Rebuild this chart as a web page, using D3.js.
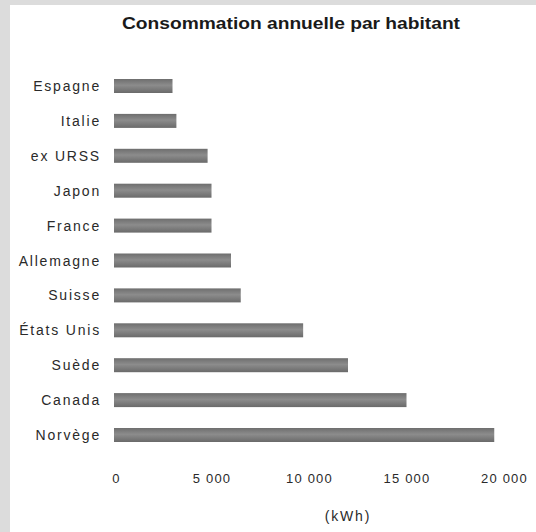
<!DOCTYPE html>
<html><head><meta charset="utf-8">
<script src="https://cdn.jsdelivr.net/npm/d3@7/dist/d3.min.js"></script>
<style>html,body{margin:0;padding:0;background:#dcdcdc;}svg{display:block;}</style>
</head><body><svg id="c" width="536" height="532"></svg>
<script>
const countries = ["Espagne","Italie","ex URSS","Japon","France","Allemagne","Suisse","États Unis","Suède","Canada","Norvège"];
const values = [3000,3200,4800,5000,5000,6000,6500,9700,12000,15000,19500];
const tickValues = [0,5000,10000,15000,20000];
const tickLabels = ["0","5 000","10 000","15 000","20 000"];
const title = "Consommation annuelle par habitant";
const unit = "(kWh)";

const svg = d3.select("#c");
svg.append("rect").attr("x",10).attr("y",5).attr("width",526).attr("height",527).attr("fill","#ffffff");

const defs = svg.append("defs");
const g = defs.append("linearGradient").attr("id","bg").attr("x1",0).attr("y1",0).attr("x2",0).attr("y2",1);
g.append("stop").attr("offset","0%").attr("stop-color","#6e6e6e");
g.append("stop").attr("offset","45%").attr("stop-color","#8c8c8c");
g.append("stop").attr("offset","100%").attr("stop-color","#6a6a6a");

const x = d3.scaleLinear().domain([0,20000]).range([114,504]);
const y = d3.scalePoint().domain(countries).range([86,435]);
const bh = 14;
const font = "Liberation Sans, Arial, sans-serif";

svg.append("text").attr("x",291).attr("y",29).attr("text-anchor","middle")
  .attr("font-family",font).attr("font-weight","bold")
  .attr("font-size",16).attr("fill","#1a1a1a")
  .attr("textLength",338).attr("lengthAdjust","spacingAndGlyphs").text(title);

svg.append("g").selectAll("rect").data(countries).join("rect")
  .attr("x",x(0)).attr("y",d=>y(d)-bh/2)
  .attr("width",(d,i)=>x(values[i])-x(0)).attr("height",bh)
  .attr("fill","url(#bg)");

svg.append("g").selectAll("text").data(countries).join("text")
  .attr("x",101).attr("y",d=>y(d)+5).attr("text-anchor","end")
  .attr("font-family",font).attr("font-size",14).attr("letter-spacing","1.8px")
  .attr("fill","#2a2a2a").text(d=>d);

const axis = d3.axisBottom(x).tickValues(tickValues).tickSize(0)
  .tickFormat((d,i)=>tickLabels[i]);
const ag = svg.append("g").attr("transform","translate(0,471)").call(axis);
ag.select(".domain").remove();
ag.selectAll("text").attr("font-family",font)
  .attr("font-size",13).attr("letter-spacing","1.2px").attr("fill","#2a2a2a")
  .attr("dx",(d,i)=>i===0?2:0);

svg.append("text").attr("x",348).attr("y",521).attr("text-anchor","middle")
  .attr("font-family",font).attr("font-size",14).attr("letter-spacing","1.8px")
  .attr("fill","#2a2a2a").text(unit);
</script></body></html>
